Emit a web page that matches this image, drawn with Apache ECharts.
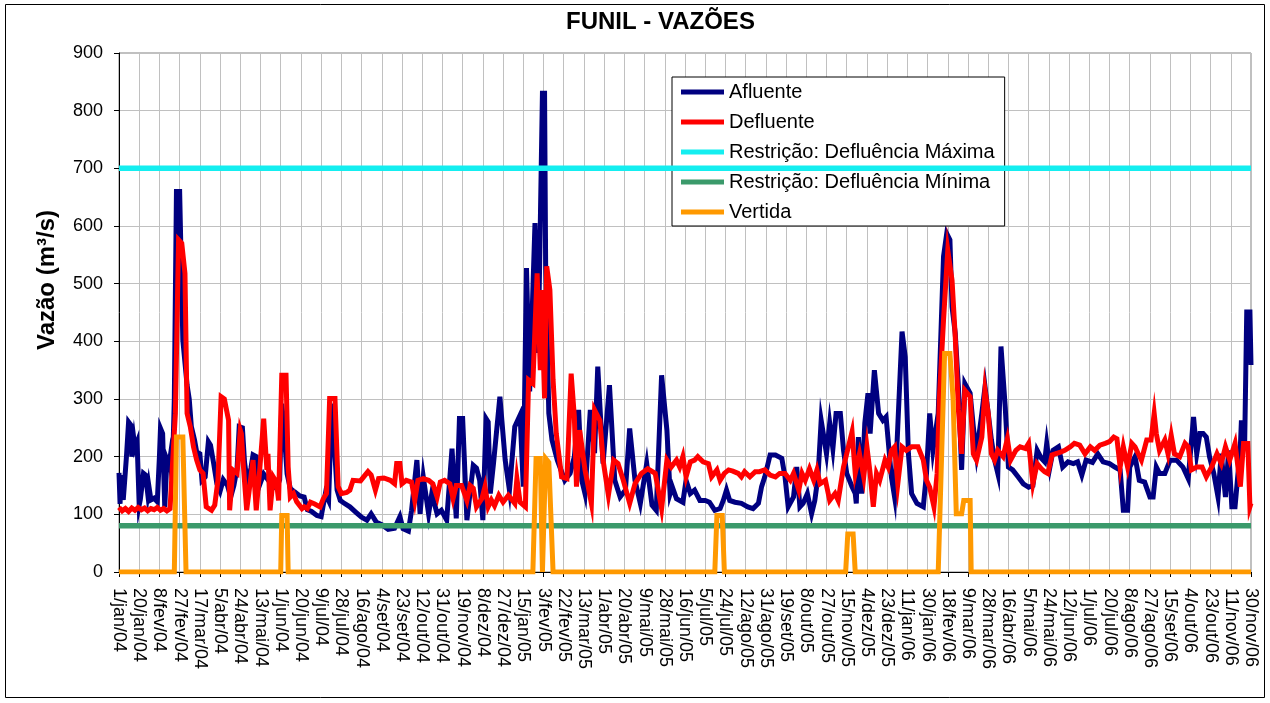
<!DOCTYPE html>
<html>
<head>
<meta charset="utf-8">
<title>FUNIL - VAZÕES</title>
<script src="https://cdn.jsdelivr.net/npm/echarts@6/dist/echarts.min.js"></script>
<style>
  html, body { margin: 0; padding: 0; background: #ffffff; }
  #chart { width: 1270px; height: 703px; }
</style>
</head>
<body>
<div id="chart"></div>
<script>
// dia (0 = 1/jan/04) e vazão em m3/s
const tickLabels = [
  "1/jan/04", "20/jan/04", "8/fev/04", "27/fev/04", "17/mar/04", "5/abr/04", "24/abr/04", "13/mai/04",
  "1/jun/04", "20/jun/04", "9/jul/04", "28/jul/04", "16/ago/04", "4/set/04", "23/set/04", "12/out/04",
  "31/out/04", "19/nov/04", "8/dez/04", "27/dez/04", "15/jan/05", "3/fev/05", "22/fev/05", "13/mar/05",
  "1/abr/05", "20/abr/05", "9/mai/05", "28/mai/05", "16/jun/05", "5/jul/05", "24/jul/05", "12/ago/05",
  "31/ago/05", "19/set/05", "8/out/05", "27/out/05", "15/nov/05", "4/dez/05", "23/dez/05", "11/jan/06",
  "30/jan/06", "18/fev/06", "9/mar/06", "28/mar/06", "16/abr/06", "5/mai/06", "24/mai/06", "12/jun/06",
  "1/jul/06", "20/jul/06", "8/ago/06", "27/ago/06", "15/set/06", "4/out/06", "23/out/06", "11/nov/06",
  "30/nov/06"
];
const tickStep = 19;
const lastDay = 1064;

const afluente = [
  [0,172],[1,118],[2,168],[4,125],[5,150],[7,200],[9,260],[11,255],[12,200],[14,230],[15,215],[17,225],
  [19,116],[20,125],[23,171],[25,168],[27,136],[28,150],[30,125],[33,128],[36,122],[38,200],[39,249],[41,240],
  [43,112],[45,195],[47,185],[48,198],[50,160],[52,300],[53,483],[54,660],[57,660],[60,402],[64,324],[66,300],
  [68,252],[71,229],[73,208],[76,205],[78,159],[81,165],[84,226],[86,220],[89,188],[92,153],[95,140],[98,160],
  [102,150],[105,130],[108,150],[111,180],[113,252],[116,250],[118,190],[121,150],[124,180],[126,203],[129,200],
  [132,150],[136,170],[140,160],[144,150],[148,145],[151,160],[153,292],[155,250],[158,170],[161,145],[165,139],
  [170,132],[174,130],[177,108],[181,105],[186,98],[190,96],[194,136],[197,124],[200,292],[205,142],[208,124],
  [211,120],[217,113],[223,103],[228,95],[233,90],[237,101],[242,86],[247,82],[253,74],[259,76],[264,96],
  [267,75],[272,71],[275,107],[280,194],[283,101],[286,165],[291,101],[294,136],[299,101],[303,107],[308,90],
  [313,214],[317,93],[320,266],[323,266],[327,90],[333,185],[336,180],[339,159],[342,90],[345,266],[347,260],
  [349,136],[352,188],[358,304],[363,194],[367,142],[372,252],[377,272],[380,148],[383,527],[386,313],[391,605],
  [394,380],[398,830],[400,830],[401,535],[404,275],[407,229],[412,194],[419,159],[424,171],[428,200],[432,281],
  [435,159],[438,136],[443,281],[447,206],[450,356],[455,188],[461,324],[466,159],[471,130],[476,142],[480,249],
  [485,159],[490,119],[496,188],[501,116],[505,107],[510,341],[515,246],[518,136],[520,148],[524,127],[530,121],
  [533,159],[537,136],[541,142],[546,124],[551,124],[555,121],[560,107],[565,110],[568,124],[571,142],[574,124],
  [579,121],[585,119],[591,113],[596,110],[601,119],[604,148],[607,165],[612,203],[617,203],[623,197],[626,165],
  [629,113],[634,130],[637,182],[640,113],[643,119],[647,136],[651,101],[654,124],[657,165],[660,263],[665,205],
  [668,258],[671,214],[674,275],[678,275],[681,211],[684,171],[689,148],[692,136],[693,119],[695,234],[698,136],
  [701,258],[704,310],[706,240],[710,350],[714,275],[718,263],[721,269],[726,165],[729,130],[732,252],[736,417],
  [739,373],[742,205],[745,136],[750,119],[756,113],[759,171],[762,275],[765,211],[770,275],[775,547],[778,587],
  [781,576],[783,460],[786,414],[789,321],[792,177],[795,327],[800,310],[803,252],[806,205],[811,275],[814,321],
  [817,275],[820,229],[823,194],[826,171],[829,391],[833,286],[836,182],[840,177],[845,165],[850,153],[855,147],
  [859,150],[863,211],[867,197],[870,191],[872,223],[875,182],[878,211],[883,217],[887,182],[892,191],[897,188],
  [901,191],[905,168],[909,194],[915,190],[920,205],[925,191],[931,188],[936,182],[941,177],[944,107],[948,107],
  [950,182],[955,200],[959,159],[964,156],[969,130],[972,130],[975,182],[978,171],[983,171],[988,194],[994,194],
  [1000,182],[1005,162],[1010,269],[1013,205],[1016,240],[1019,240],[1022,234],[1025,200],[1029,171],[1033,130],
  [1036,205],[1040,130],[1043,211],[1046,113],[1049,113],[1054,217],[1055,263],[1058,217],[1060,451],[1063,451],
  [1064,359]
];

const defluente = [
  [0,112],[3,106],[6,110],[9,105],[12,111],[15,107],[18,112],[21,108],[24,111],[27,106],[30,110],[33,108],
  [36,112],[39,107],[42,110],[45,106],[48,110],[49,112],[50,177],[53,275],[56,576],[59,570],[62,518],[64,275],
  [67,252],[70,217],[73,194],[76,177],[79,171],[82,113],[87,107],[90,116],[93,159],[96,304],[99,300],[103,263],
  [104,107],[107,177],[111,171],[114,246],[115,240],[117,182],[120,107],[126,194],[129,107],[132,171],[136,266],
  [139,177],[140,205],[142,107],[145,165],[148,156],[150,124],[153,341],[157,341],[159,182],[161,130],[164,136],
  [167,122],[172,110],[174,113],[177,110],[180,121],[184,118],[189,113],[192,127],[195,136],[198,301],[203,301],
  [206,148],[209,136],[214,138],[217,142],[220,159],[227,158],[230,165],[234,174],[237,168],[241,142],[244,162],
  [249,163],[255,159],[259,153],[261,188],[264,188],[266,153],[270,159],[275,156],[278,124],[281,159],[286,162],
  [291,159],[295,153],[299,130],[302,156],[306,159],[311,153],[314,127],[317,150],[322,150],[327,124],[330,150],
  [333,145],[336,113],[341,127],[344,148],[347,113],[350,125],[353,115],[357,133],[361,121],[366,133],[372,119],
  [374,162],[377,121],[382,113],[385,333],[389,327],[393,518],[396,350],[397,489],[400,301],[402,530],[405,489],
  [408,333],[411,240],[416,165],[421,162],[425,344],[428,269],[430,148],[433,246],[438,177],[444,119],[447,281],
  [452,263],[455,194],[460,133],[465,194],[469,188],[474,159],[480,119],[485,153],[491,171],[497,179],[504,171],
  [510,110],[515,194],[519,182],[524,194],[527,182],[530,200],[533,165],[537,191],[541,194],[544,200],[549,191],
  [554,188],[557,165],[562,177],[565,159],[569,171],[573,177],[577,175],[582,171],[585,165],[588,174],[593,165],
  [598,174],[602,174],[607,177],[612,168],[617,165],[621,171],[626,171],[631,159],[634,171],[639,142],[642,171],
  [645,159],[649,179],[653,159],[656,177],[659,153],[664,159],[668,124],[673,136],[676,124],[681,182],[684,205],
  [689,243],[692,171],[696,205],[700,165],[703,217],[706,171],[709,113],[712,171],[715,159],[720,194],[723,182],
  [726,211],[729,217],[732,153],[736,217],[740,211],[745,217],[751,217],[756,194],[759,159],[762,147],[766,113],
  [769,171],[771,298],[775,437],[779,558],[783,506],[786,408],[789,281],[792,205],[795,315],[800,304],[803,205],
  [806,194],[811,234],[814,315],[817,275],[820,205],[823,194],[826,211],[831,200],[835,231],[838,194],[843,211],
  [847,217],[852,214],[855,223],[859,153],[863,188],[867,179],[870,174],[873,171],[877,203],[880,205],[885,208],
  [889,211],[894,217],[898,223],[903,220],[908,205],[913,217],[917,211],[922,220],[927,223],[931,226],[935,234],
  [938,231],[941,182],[944,217],[948,182],[952,223],[955,217],[958,205],[961,194],[966,229],[970,229],[973,275],
  [975,240],[978,211],[983,229],[986,205],[989,237],[992,205],[997,200],[1002,223],[1005,217],[1008,177],
  [1013,182],[1018,182],[1022,165],[1027,182],[1032,205],[1036,188],[1040,217],[1044,194],[1049,223],[1054,148],
  [1057,223],[1061,223],[1063,113],[1064,119]
];

const vertida = [
  [0,0],[52,0],[54,234],[60,234],[63,0],[152,0],[153,98],[158,98],[159,0],[389,0],[392,197],[396,197],
  [398,0],[401,197],[404,190],[408,0],[560,0],[562,98],[567,98],[569,0],[683,0],[685,66],[690,66],[692,0],
  [770,0],[776,379],[781,379],[784,300],[787,101],[792,101],[794,124],[800,124],[801,0],[1064,0]
];

const restricaoMax = 700;
const restricaoMin = 80;

const fontFamily = "'Liberation Sans', Arial, sans-serif";

const chart = echarts.init(document.getElementById('chart'));

function lineSeries(name, data, color, width, z) {
  return {
    name: name,
    type: 'line',
    data: data,
    showSymbol: false,
    symbol: 'none',
    color: color,
    lineStyle: { color: color, width: width, join: 'miter' },
    z: z,
    silent: true
  };
}

chart.setOption({
  animation: false,
  backgroundColor: '#ffffff',
  title: {
    text: 'FUNIL - VAZÕES',
    left: 566,
    top: 10,
    padding: 0,
    textStyle: { fontFamily: fontFamily, fontSize: 24, fontWeight: 'bold', color: '#000000' }
  },
  legend: {
    orient: 'vertical',
    left: 672,
    top: 77,
    padding: [4, 10, 3, 9],
    itemGap: 8,
    itemWidth: 43,
    itemHeight: 5,
    icon: 'rect',
    backgroundColor: '#ffffff',
    borderColor: '#000000',
    borderWidth: 1,
    borderRadius: 0,
    textStyle: { fontFamily: fontFamily, fontSize: 20, lineHeight: 22, color: '#000000' },
    data: ['Afluente', 'Defluente', 'Restrição: Defluência Máxima', 'Restrição: Defluência Mínima', 'Vertida']
  },
  grid: {
    left: 119,
    right: 19,
    top: 53,
    bottom: 131,
    show: true,
    borderColor: '#808080',
    borderWidth: 1,
    backgroundColor: '#ffffff'
  },
  xAxis: {
    type: 'value',
    min: 0,
    max: lastDay,
    interval: tickStep,
    axisLine: { show: true, lineStyle: { color: '#000000', width: 1 } },
    axisTick: { show: true, inside: false, length: 5, lineStyle: { color: '#000000' } },
    splitLine: { show: true, lineStyle: { color: '#c0c0c0', width: 1 } },
    axisLabel: {
      rotate: -90,
      margin: 16,
      fontFamily: fontFamily,
      fontSize: 18,
      color: '#000000',
      showMinLabel: true,
      showMaxLabel: true,
      formatter: function (v) { return tickLabels[Math.round(v / tickStep)] || ''; }
    }
  },
  yAxis: {
    type: 'value',
    min: 0,
    max: 900,
    interval: 100,
    axisLine: { show: true, lineStyle: { color: '#000000', width: 1 } },
    axisTick: { show: true, inside: false, length: 5, lineStyle: { color: '#000000' } },
    splitLine: { show: true, lineStyle: { color: '#c0c0c0', width: 1 } },
    axisLabel: { margin: 16, fontFamily: fontFamily, fontSize: 18, color: '#000000' }
  },
  graphic: [
    {
      type: 'rect',
      shape: { x: 5.5, y: 4.5, width: 1259, height: 693 },
      style: { fill: 'none', stroke: '#000000', lineWidth: 1 },
      silent: true
    },
    {
      type: 'text',
      x: 47,
      y: 280,
      rotation: Math.PI / 2,
      style: {
        text: 'Vazão (m³/s)',
        font: "bold 24px 'Liberation Sans', Arial, sans-serif",
        fill: '#000000',
        align: 'center',
        verticalAlign: 'middle'
      },
      silent: true
    }
  ],
  series: [
    lineSeries('Afluente', afluente, '#000080', 5, 2),
    lineSeries('Defluente', defluente, '#ff0000', 5, 3),
    lineSeries('Restrição: Defluência Máxima', [[0, restricaoMax], [lastDay, restricaoMax]], '#14eef0', 5.5, 4),
    lineSeries('Restrição: Defluência Mínima', [[0, restricaoMin], [lastDay, restricaoMin]], '#3b9a6b', 5.5, 5),
    lineSeries('Vertida', vertida, '#ff9900', 5, 6)
  ]
});
</script>
</body>
</html>
